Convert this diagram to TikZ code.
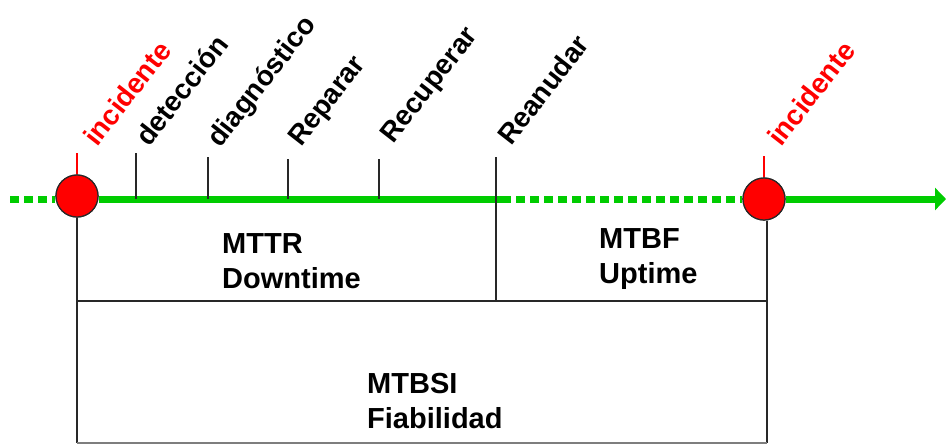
\documentclass[tikz,border=0pt]{standalone}
\usepackage{fontspec}
\setmainfont{Liberation Sans}
\usetikzlibrary{arrows.meta}
\definecolor{tlgreen}{RGB}{0,204,0}
\definecolor{incred}{RGB}{255,0,0}
\definecolor{rulegray}{RGB}{40,40,40}
\begin{document}
\begin{tikzpicture}[x=1pt,y=-1pt,
  timeline/.style={tlgreen, line width=7pt},
  dotline/.style={timeline, dash pattern=on 9pt off 5pt},
  event/.style={circle, fill=incred, draw=rulegray, line width=1.2pt, minimum size=42pt, inner sep=0pt},
  tickline/.style={rulegray, line width=1.6pt},
  redtick/.style={incred, line width=1.6pt},
  frame/.style={rulegray, line width=2pt},
  phase/.style={font=\fontsize{28}{32}\selectfont\bfseries, rotate=52, anchor=base west, inner sep=0pt},
  metric/.style={font=\fontsize{29}{35}\selectfont\bfseries, align=left, anchor=base west, inner sep=0pt}]
\useasboundingbox (0,0) rectangle (947,444);

% event markers (placed first so the axis can refer to them)
\node[event] (inc1) at (77,196) {};
\node[event] (inc2) at (764,199) {};

% points on the time axis
\coordinate (start) at (10,199);
\coordinate (resume) at (502,199);
\coordinate (tipend) at (946,199);

% green time axis
\draw[dotline] (start) -- (inc1.west |- start);
\draw[timeline] (inc1.east |- start) -- (resume);
\draw[dotline] (resume) -- (inc2.west |- resume);
\draw[timeline, -{Triangle[length=11pt,width=22pt]}] (inc2.east |- tipend) -- (tipend);

% phase ticks
\coordinate (tdet) at (136,153);
\coordinate (tdia) at (208,157);
\coordinate (trep) at (288,159);
\coordinate (trec) at (379,159);
\coordinate (trea) at (496,157);
\draw[tickline] (tdet) -- (tdet |- start);
\draw[tickline] (tdia) -- (tdia |- start);
\draw[tickline] (trep) -- (trep |- start);
\draw[tickline] (trec) -- (trec |- start);
\draw[redtick] (inc1.north) -- ++(0,-21);
\draw[redtick] (inc2.north) -- ++(0,-21);

% interval frames
\coordinate (midbar) at (496,301);
\coordinate (leftbot) at (77,443);
\coordinate (rightbot) at (767,443);
\draw[frame] (trea) -- (midbar);
\draw[frame] (inc1.south) -- (leftbot);
\draw[frame] (inc2.south -| rightbot) -- (rightbot);
\draw[frame] (leftbot |- midbar) -- (rightbot |- midbar);
\draw[rulegray!60, line width=1.5pt] (leftbot) -- (rightbot);

% redraw markers on top of the axis
\node[event] at (inc1) {};
\node[event] at (inc2) {};

% phase labels
\node[phase, text=incred] (linc1) at (97,148) {incidente};
\node[phase] (ldet) at (149,148) {detección};
\node[phase] (ldia) at (220,149) {diagnóstico};
\node[phase] (lrep) at (301,148) {Reparar};
\node[phase] (lrec) at (393,145) {Recuperar};
\node[phase] (lrea) at (511,147) {Reanudar};
\node[phase, text=incred] (linc2) at (781,148) {incidente};

% metrics
\node[metric] (mttr) at (222,288) {MTTR\\Downtime};
\node[metric] (mtbf) at (599,283) {MTBF\\Uptime};
\node[metric] (mtbsi) at (367,428) {MTBSI\\Fiabilidad};
\end{tikzpicture}
\end{document}
